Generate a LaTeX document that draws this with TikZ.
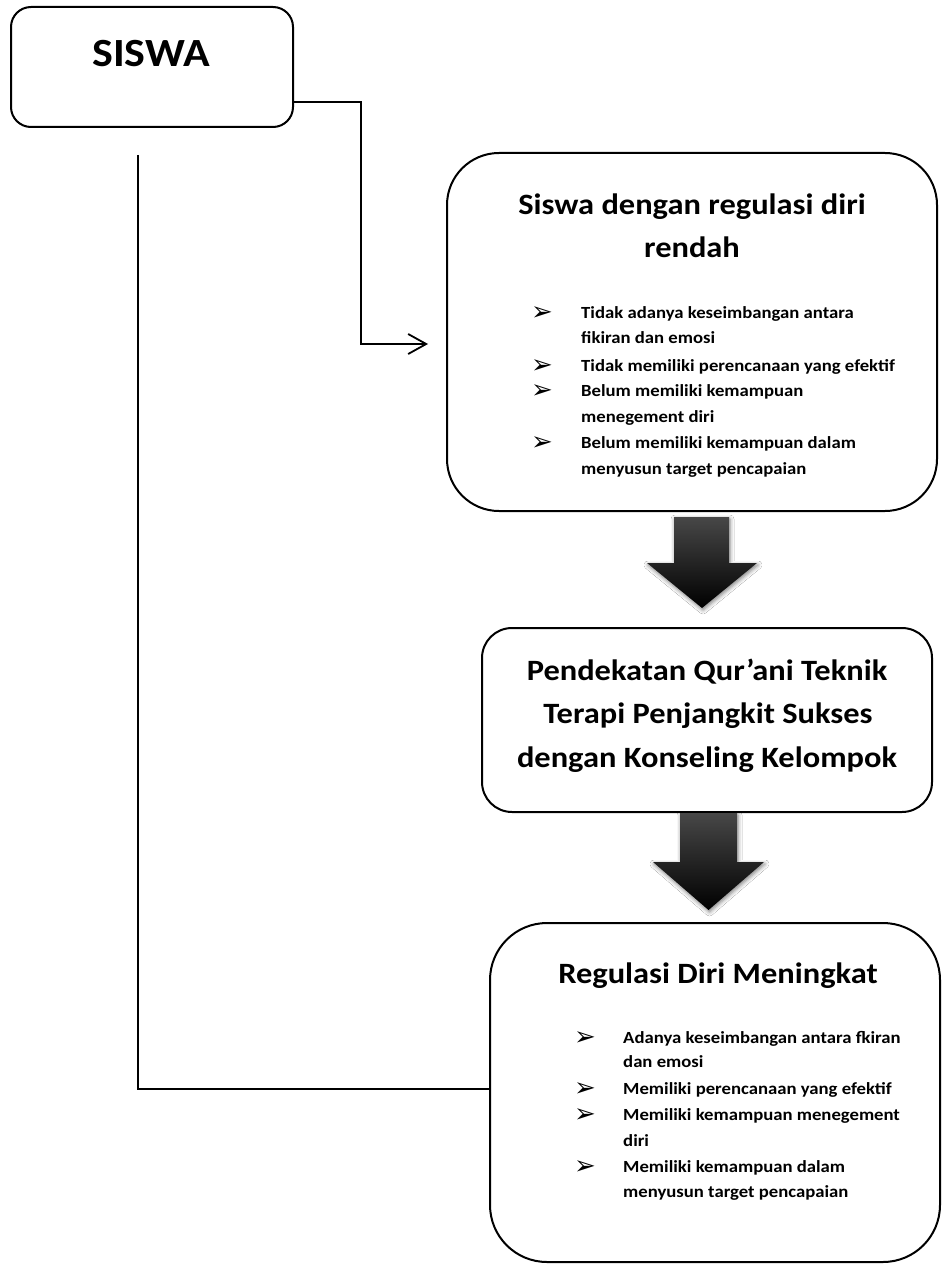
\documentclass[tikz,border=0pt]{standalone}
\usepackage{fontspec}
\setmainfont{Carlito}[FakeStretch=1.1]
\newfontfamily\dvs{DejaVu Sans}
\usetikzlibrary{arrows.meta,shadows.blur,calc}
\tikzset{
  box/.style={draw=black, line width=2pt, rounded corners=#1, fill=white, inner sep=0pt},
  conn/.style={line width=1.8pt, draw=black},
  ttl/.style={font=\fontsize{29.5}{35}\selectfont\bfseries, anchor=base, inner sep=0pt},
  itm/.style={font=\fontsize{17}{20}\selectfont\bfseries, anchor=base west, inner sep=0pt},
  bul/.style={font=\dvs\fontsize{26}{28}\selectfont, anchor=base west, inner sep=0pt},
  blk/.style={blur shadow={shadow xshift=1pt, shadow yshift=-2pt, shadow blur radius=4pt, shadow opacity=50},
              top color=black!72, middle color=black, bottom color=black}
}
\begin{document}
\begin{tikzpicture}[x=1pt,y=-1pt]
\useasboundingbox[fill=white] (0,0) rectangle (942,1265);

% boxes
\node[box=20pt, minimum width=282pt, minimum height=120pt] (siswa) at (152,67) {};
\node[box=52pt, minimum width=490pt, minimum height=358pt] (reg) at (692,332) {};
\node[box=30pt, minimum width=450pt, minimum height=184pt] (ped) at (707,720) {};
\node[box=57pt, minimum width=450pt, minimum height=339pt] (ming) at (715,1092.5) {};

% connectors
\draw[conn, -{Straight Barb[length=18pt, width=20pt]}]
  ([yshift=-35pt]siswa.east) -| (361,344) -- ([xshift=-18pt,yshift=-12pt]reg.west);
\coordinate (lt) at (138,155);
\draw[conn] (lt) |- ([yshift=3.5pt]ming.west);

% block arrows
\path[blk] (674,517) -- (729,517) -- (729,563) -- (757,563) -- (702,608) -- (647,563) -- (674,563) -- cycle;
\path[blk] (680,813) -- (737,813) -- (737,862) -- (764,862) -- (708.5,910) -- (653,862) -- (680,862) -- cycle;

% texts
\node[font=\fontsize{40}{42}\selectfont\bfseries, anchor=base, inner sep=0pt] (tsiswa) at (151,67) {SISWA};

\node[ttl] (reg1) at (692,215) {Siswa dengan regulasi diri};
\node[ttl] (reg2) at (692,258) {rendah};
\foreach \t/\yy [count=\i] in {{Tidak adanya keseimbangan antara}/318,
  {fikiran dan emosi}/343,
  {Tidak memiliki perencanaan yang efektif}/371,
  {Belum memiliki kemampuan}/396,
  {menegement diri}/422,
  {Belum memiliki kemampuan dalam}/448,
  {menyusun target pencapaian}/474}
  \node[itm] (r\i) at (581,\yy) {\t};
\foreach \yy [count=\i] in {318,371,396,448}
  \node[bul] (rb\i) at (531,\yy+2) {➢};

\node[ttl] (p1) at (707,680) {Pendekatan Qur’ani Teknik};
\node[ttl] (p2) at (708,723) {Terapi Penjangkit Sukses};
\node[ttl] (p3) at (707,767) {dengan Konseling Kelompok};

\node[ttl] (m0) at (718,983) {Regulasi Diri Meningkat};
\foreach \t/\yy [count=\i] in {{Adanya keseimbangan antara fkiran}/1043,
  {dan emosi}/1067,
  {Memiliki perencanaan yang efektif}/1094,
  {Memiliki kemampuan menegement}/1120,
  {diri}/1146,
  {Memiliki kemampuan dalam}/1172,
  {menyusun target pencapaian}/1197}
  \node[itm] (m\i) at (623,\yy) {\t};
\foreach \yy [count=\i] in {1043,1094,1120,1172}
  \node[bul] (mb\i) at (574,\yy+2) {➢};
\end{tikzpicture}
\end{document}
